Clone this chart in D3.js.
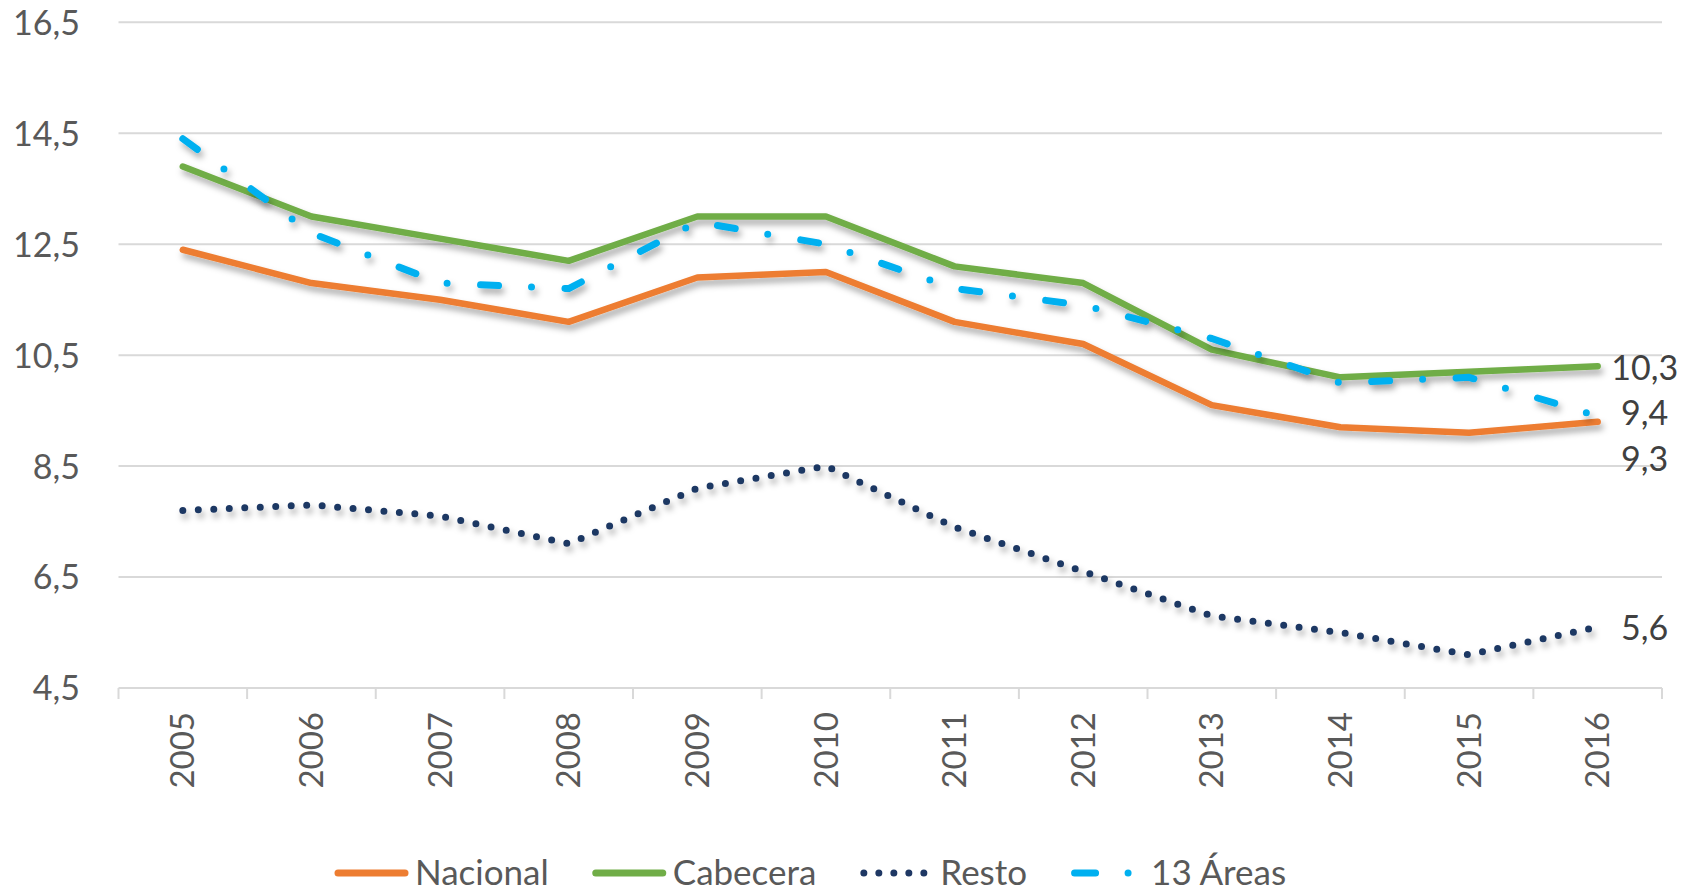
<!DOCTYPE html>
<html>
<head>
<meta charset="utf-8">
<script src="https://cdn.jsdelivr.net/npm/d3@7"></script>
<style>
  html, body { margin: 0; padding: 0; background: #fff; }
  svg { display: block; font-family: Lato, "Open Sans", sans-serif; }
</style>
</head>
<body>
<svg id="chart" width="1698" height="893"></svg>
<script>
const years = ["2005","2006","2007","2008","2009","2010","2011","2012","2013","2014","2015","2016"];
const nacional = [12.4, 11.8, 11.5, 11.1, 11.9, 12.0, 11.1, 10.7, 9.6, 9.2, 9.1, 9.3];
const cabecera = [13.9, 13.0, 12.6, 12.2, 13.0, 13.0, 12.1, 11.8, 10.6, 10.1, 10.2, 10.3];
const resto    = [7.7, 7.8, 7.6, 7.1, 8.1, 8.5, 7.4, 6.6, 5.8, 5.5, 5.1, 5.6];
const areas13  = [14.4, 12.7, 11.8, 11.7, 12.9, 12.5, 11.7, 11.4, 10.8, 10.0, 10.1, 9.4];
const yTicks = [4.5, 6.5, 8.5, 10.5, 12.5, 14.5, 16.5];
const seriesNames = ["Nacional", "Cabecera", "Resto", "13 Áreas"];

const fmt = v => d3.format(".1f")(v).replace(".", ",");

const svg = d3.select("#chart");
const pL = 118.5, pR = 1662, pT = 22.3, pB = 688;

const x = d3.scaleBand().domain(years).range([pL, pR]).padding(0);
const y = d3.scaleLinear().domain([4.5, 16.5]).range([pB, pT]);
const cx = d => x(d) + x.bandwidth() / 2;

// shadow filter
const defs = svg.append("defs");
const f = defs.append("filter").attr("id", "shadow")
  .attr("x", "-10%").attr("y", "-20%").attr("width", "130%").attr("height", "150%");
f.append("feDropShadow").attr("dx", 2.5).attr("dy", 5).attr("stdDeviation", 3)
  .attr("flood-color", "#000").attr("flood-opacity", 0.33);

// gridlines
svg.append("g").selectAll("line").data(yTicks.filter(t => t > 4.5)).join("line")
  .attr("x1", pL).attr("x2", pR)
  .attr("y1", d => y(d)).attr("y2", d => y(d))
  .attr("stroke", "#d9d9d9").attr("stroke-width", 2);

// y axis labels
const yAxis = d3.axisLeft(y).tickValues(yTicks).tickFormat(fmt).tickSize(0).tickPadding(0);
const gy = svg.append("g").attr("transform", `translate(80,0)`).call(yAxis);
gy.select(".domain").remove();
gy.selectAll("text").attr("font-size", 34).attr("fill", "#595959")
  .attr("font-family", "Lato, sans-serif").attr("x", 0).attr("dy", "0.35em");

// x axis line and ticks
const gx = svg.append("g");
gx.append("line").attr("x1", pL).attr("x2", pR).attr("y1", pB).attr("y2", pB)
  .attr("stroke", "#d9d9d9").attr("stroke-width", 2);
const boundaries = years.map(d => x(d)).concat([pR]);
gx.selectAll("line.tick").data(boundaries).join("line").attr("class", "tick")
  .attr("x1", d => d).attr("x2", d => d).attr("y1", pB).attr("y2", pB + 11)
  .attr("stroke", "#d9d9d9").attr("stroke-width", 2);
gx.selectAll("text").data(years).join("text")
  .attr("transform", d => `translate(${cx(d)},712) rotate(-90)`)
  .attr("text-anchor", "end").attr("dy", "0.35em")
  .attr("font-size", 33).attr("fill", "#595959").text(d => d);

// series
const series = [
  { name: seriesNames[0], values: nacional, color: "#ED7D31", width: 6.5, dash: null, cap: "round", labelDy: 37 },
  { name: seriesNames[1], values: cabecera, color: "#70AD47", width: 6.5, dash: null, cap: "round", labelDy: 2 },
  { name: seriesNames[2], values: resto,    color: "#1F3864", width: 7,   dash: "0 15.5", cap: "round", labelDy: 1 },
  { name: seriesNames[3], values: areas13,  color: "#00B0F0", width: 7,   dash: "18 33 0 33.5", cap: "round", labelDy: -3 }
];

const line = d3.line().x((v, i) => cx(years[i])).y(v => y(v)).curve(d3.curveLinear);

const drawOrder = [2, 0, 1, 3];
drawOrder.forEach(k => {
  const s = series[k];
  svg.append("path").datum(s.values)
    .attr("d", line)
    .attr("fill", "none")
    .attr("stroke", s.color)
    .attr("stroke-width", s.width)
    .attr("stroke-linecap", s.cap)
    .attr("stroke-linejoin", "round")
    .attr("stroke-dasharray", s.dash)
    .attr("filter", "url(#shadow)");
});

// end labels
const lastYear = years[years.length - 1];
svg.append("g").selectAll("text").data(series).join("text")
  .attr("x", cx(lastYear) + 47)
  .attr("y", s => y(s.values[s.values.length - 1]) + s.labelDy)
  .attr("dy", "0.35em")
  .attr("text-anchor", "middle")
  .attr("font-size", 34).attr("fill", "#404040")
  .text(s => fmt(s.values[s.values.length - 1]));

// legend
const lg = svg.append("g");
let lx = 335;
const ly = 873;
series.forEach(s => {
  const g = lg.append("g");
  if (s.name === "Resto") {
    g.append("line").attr("x1", lx + 3.5).attr("x2", lx + 64).attr("y1", ly).attr("y2", ly)
      .attr("stroke", s.color).attr("stroke-width", 7).attr("stroke-linecap", "round")
      .attr("stroke-dasharray", "0 15");
  } else if (s.name === "13 Áreas") {
    g.append("line").attr("x1", lx + 3.5).attr("x2", lx + 57.5).attr("y1", ly).attr("y2", ly)
      .attr("stroke", s.color).attr("stroke-width", 7).attr("stroke-linecap", "round")
      .attr("stroke-dasharray", "21 32.5 0 100");
  } else {
    g.append("line").attr("x1", lx + 3).attr("x2", lx + 70).attr("y1", ly).attr("y2", ly)
      .attr("stroke", s.color).attr("stroke-width", 7).attr("stroke-linecap", "round");
  }
  const tx = lx + 80;
  const t = g.append("text").attr("x", tx).attr("y", 884.5)
    .attr("font-size", 35).attr("fill", "#595959").text(s.name);
  lx = tx + t.node().getComputedTextLength() + 44;
});
</script>
</body>
</html>
